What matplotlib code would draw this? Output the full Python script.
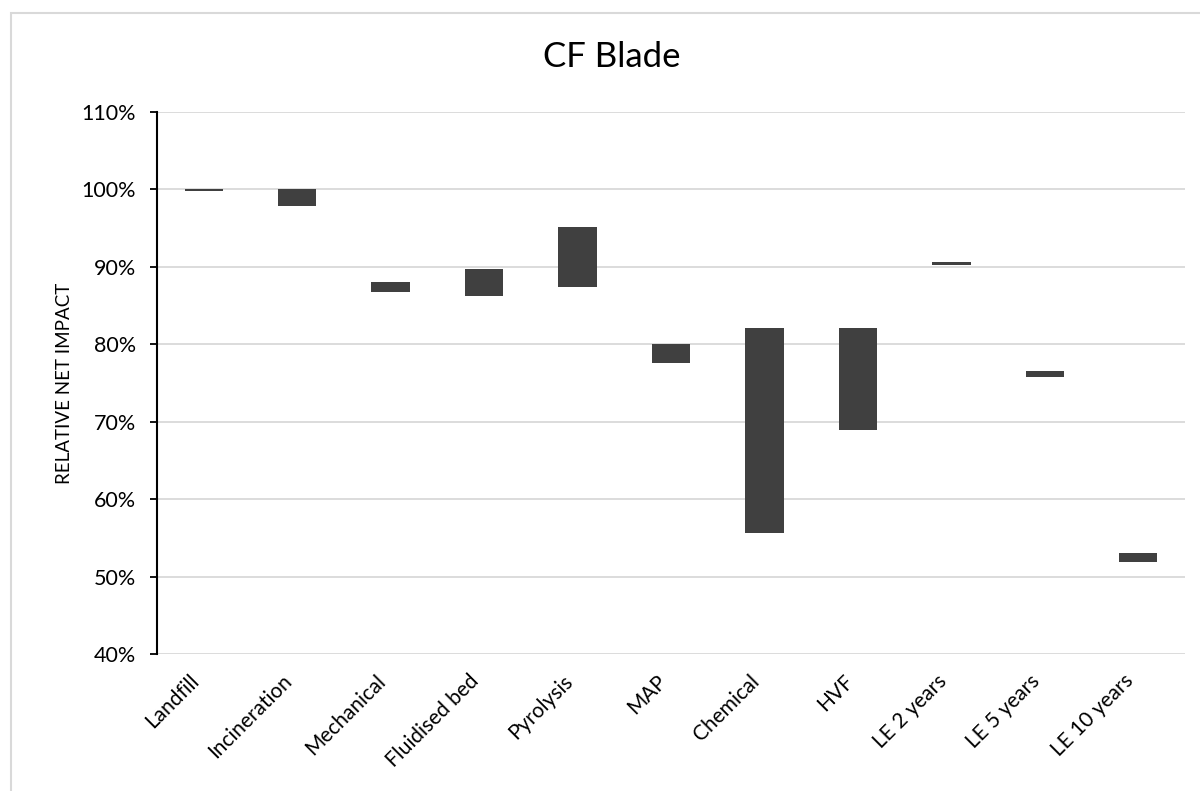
import matplotlib
matplotlib.use("Agg")
import matplotlib.pyplot as plt
import matplotlib.transforms as mtransforms
from matplotlib.patches import Rectangle
from matplotlib.ticker import FuncFormatter

# ========= data (relative net impact, % of landfill) =========
categories = ["Landfill", "Incineration", "Mechanical", "Fluidised bed", "Pyrolysis",
              "MAP", "Chemical", "HVF", "LE 2 years", "LE 5 years", "LE 10 years"]
low_pct = [99.8, 97.9, 86.8, 86.2, 87.4, 77.6, 55.6, 68.9, 90.2, 75.8, 51.9]
high_pct = [100.1, 100.1, 88.1, 89.7, 95.1, 80.1, 82.1, 82.1, 90.6, 76.6, 53.1]
y_ticks = [40, 50, 60, 70, 80, 90, 100, 110]

FONT = ["Lato", "DejaVu Sans"]
BAR_COLOR = "#404040"
GRID_COLOR = "#d9d9d9"

plt.rcParams["font.family"] = FONT

fig = plt.figure(figsize=(12, 7.91), dpi=100)

# chart frame
fig.patches.append(Rectangle((11 / 1200, -0.1), 1.2, 1 - 13 / 791 + 0.1,
                             transform=fig.transFigure, fill=False,
                             edgecolor=GRID_COLOR, linewidth=1.5))

ax = fig.add_axes([157 / 1200, 1 - 654 / 791, (1185 - 157) / 1200, (654 - 112) / 791])

x = list(range(len(categories)))
heights = [h - l for l, h in zip(low_pct, high_pct)]
ax.bar(x, heights, bottom=low_pct, width=0.41, color=BAR_COLOR, zorder=3)

ax.set_xlim(-0.5, len(categories) - 0.5)
ax.set_ylim(40, 110)
ax.set_yticks(y_ticks)
ax.yaxis.set_major_formatter(FuncFormatter(lambda v, _: f"{v:.0f}%"))
ax.yaxis.grid(True, color=GRID_COLOR, linewidth=1.3, zorder=0)
ax.set_axisbelow(True)

for side in ("top", "right", "bottom"):
    ax.spines[side].set_visible(False)
ax.spines["left"].set_linewidth(1.5)
ax.tick_params(axis="y", length=5, width=1.3, labelsize=15.5, pad=10)
ax.tick_params(axis="x", length=0)

ax.set_xticks(x)
ax.set_xticklabels(categories, rotation=45, ha="right", va="center",
                   rotation_mode="anchor", fontsize=15)
# nudge rotated labels so their ends sit just left of each category
shift = mtransforms.ScaledTranslation(-8 / 100, 0, fig.dpi_scale_trans)
for lbl in ax.get_xticklabels():
    lbl.set_y(-0.035)
    lbl.set_transform(lbl.get_transform() + shift)

ax.set_ylabel("RELATIVE NET IMPACT", fontsize=13.5, labelpad=6)
fig.text(612 / 1200, 1 - 57 / 791, "CF Blade", ha="center", va="center", fontsize=25)

fig.savefig("out.png", dpi=100)
